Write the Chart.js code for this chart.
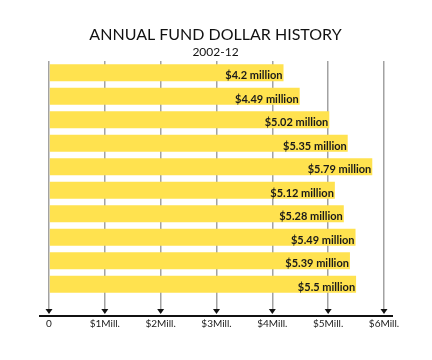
<!DOCTYPE html>
<html>
<head>
<meta charset="utf-8">
<script src="https://cdn.jsdelivr.net/npm/chart.js@4/dist/chart.umd.min.js"></script>
<style>
  html, body { margin: 0; padding: 0; background: #fff; }
  #wrap { width: 432px; height: 360px; }
</style>
</head>
<body>
<div id="wrap"><canvas id="chart" width="432" height="360"></canvas></div>
<script>
// fiscal years and annual fund totals (millions of dollars)
const years = ['2003-04', '2004-05', '2005-06', '2006-07', '2007-08', '2008-09', '2009-10', '2010-11', '2011-12', '2012-13'];
const amounts = [4.2, 4.49, 5.02, 5.35, 5.79, 5.12, 5.28, 5.49, 5.39, 5.5];
const tickValues = [0, 1, 2, 3, 4, 5, 6];
const tickLabels = ['0', '$1Mill.', '$2Mill.', '$3Mill.', '$4Mill.', '$5Mill.', '$6Mill.'];

const barColor = '#ffe24f';
const gridColor = '#a2a2a2';
const fontFamily = 'Lato, "Open Sans", sans-serif';

// value label at the right end of every bar
const valueLabels = {
    id: 'valueLabels',
    afterDatasetsDraw(chart) {
        const ctx = chart.ctx;
        const meta = chart.getDatasetMeta(0);
        ctx.save();
        ctx.font = 'bold 11px ' + fontFamily;
        ctx.fillStyle = '#1a1a1a';
        ctx.textAlign = 'right';
        ctx.textBaseline = 'middle';
        meta.data.forEach((bar, i) => {
            ctx.fillText('$' + amounts[i] + ' million', bar.x - 1, bar.y + 3);
        });
        ctx.restore();
    }
};

// black base line with small arrow heads under each grid line
const baseLine = {
    id: 'baseLine',
    afterDraw(chart) {
        const ctx = chart.ctx;
        const x = chart.scales.x;
        const area = chart.chartArea;
        const lineY = area.bottom + 20;
        ctx.save();
        ctx.fillStyle = '#111';
        x.ticks.forEach(t => {
            const px = x.getPixelForValue(t.value);
            ctx.beginPath();
            ctx.moveTo(px - 3.5, lineY - 7);
            ctx.lineTo(px + 3.5, lineY - 7);
            ctx.lineTo(px, lineY - 2);
            ctx.closePath();
            ctx.fill();
        });
        ctx.strokeStyle = '#111';
        ctx.lineWidth = 2;
        ctx.beginPath();
        ctx.moveTo(area.left - 10, lineY);
        ctx.lineTo(area.right + 9, lineY);
        ctx.stroke();
        ctx.restore();
    }
};

new Chart(document.getElementById('chart'), {
    type: 'bar',
    data: {
        labels: years,
        datasets: [{
            data: amounts,
            backgroundColor: barColor,
            borderWidth: 0,
            barPercentage: 0.72,
            categoryPercentage: 1
        }]
    },
    options: {
        indexAxis: 'y',
        responsive: false,
        animation: false,
        layout: { padding: { left: 47, right: 48, top: 27, bottom: 22 } },
        plugins: {
            legend: { display: false },
            tooltip: { enabled: false },
            title: {
                display: true,
                text: 'ANNUAL FUND DOLLAR HISTORY',
                color: '#111',
                font: { family: fontFamily, size: 16, weight: 'normal', lineHeight: 1 },
                padding: { top: 0, bottom: 3 }
            },
            subtitle: {
                display: true,
                text: '2002-12',
                color: '#111',
                font: { family: fontFamily, size: 12, weight: 'normal', lineHeight: 1 },
                padding: { top: 0, bottom: 3 }
            }
        },
        scales: {
            x: {
                type: 'linear',
                min: 0,
                max: 6,
                afterBuildTicks(scale) {
                    scale.ticks = tickValues.map(v => ({ value: v }));
                },
                grid: {
                    color: gridColor,
                    lineWidth: 1.5,
                    tickColor: gridColor,
                    tickLength: 14
                },
                border: { display: false },
                ticks: {
                    padding: 8,
                    color: '#222',
                    font: { family: fontFamily, size: 10 },
                    callback: (v, i) => tickLabels[i]
                }
            },
            y: {
                grid: { display: false, drawTicks: false },
                border: { display: false },
                ticks: {
                    mirror: true,
                    padding: 1,
                    labelOffset: 3,
                    color: '#111',
                    font: { family: fontFamily, size: 11 }
                }
            }
        }
    },
    plugins: [valueLabels, baseLine]
});
</script>
</body>
</html>
